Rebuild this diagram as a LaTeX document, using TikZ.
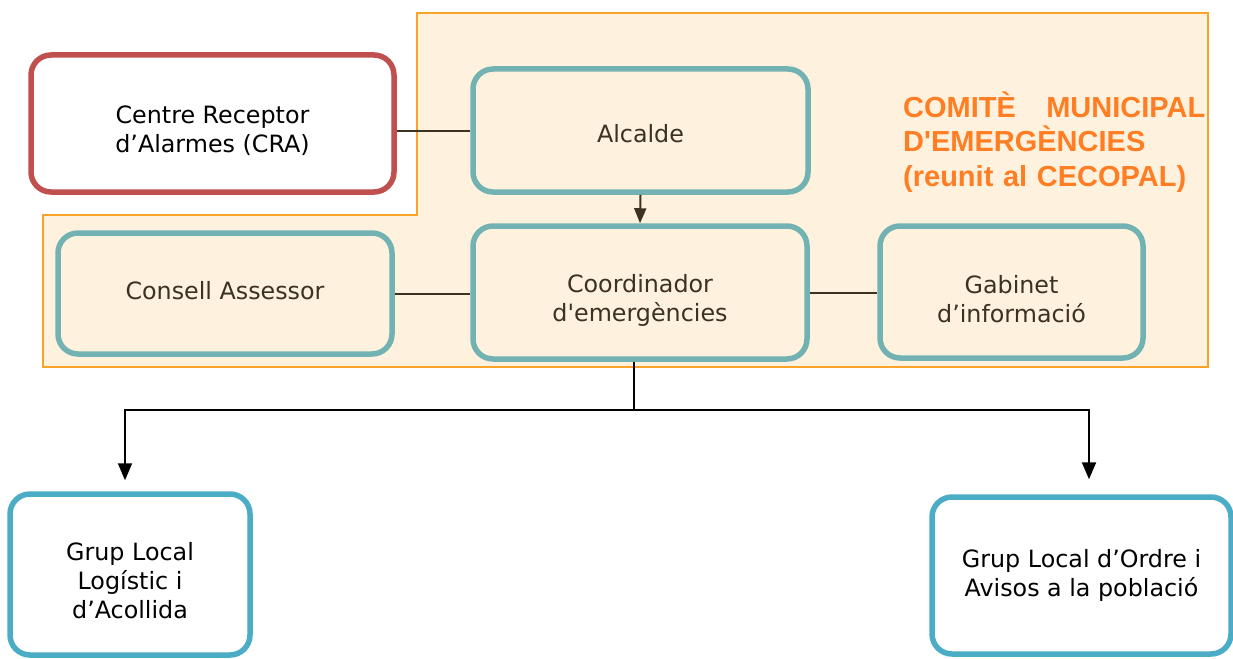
\documentclass[tikz,border=0pt]{standalone}
\usepackage{fontspec}
\usepackage{tikz}
\usetikzlibrary{arrows.meta,calc,positioning,shapes}
\newfontfamily\boxfont{DejaVu Sans}
\newfontfamily\comitefont{Liberation Sans}
\definecolor{my_cream}{RGB}{254, 242, 223}
\definecolor{my_orange}{RGB}{250, 163, 40}
\definecolor{my_title}{RGB}{255, 126, 35}
\definecolor{my_teal}{RGB}{114, 178, 179}
\definecolor{my_red}{RGB}{192, 80, 77}
\definecolor{my_blue}{RGB}{75, 172, 198}
\definecolor{my_brown}{RGB}{59, 50, 34}
\tikzset{
  orgnode/.style = {align=center, rectangle, rounded corners=20pt, line width=5.5pt,
  inner sep=2pt, font=\boxfont\fontsize{23.8}{29}\selectfont},
  org_in/.style = {orgnode, draw=my_teal, fill=my_cream, text=my_brown},
  org_cra/.style = {orgnode, draw=my_red, fill=white, text=black},
  org_grup/.style = {orgnode, draw=my_blue, fill=white, text=black}
}

\begin{document}
\begin{tikzpicture}[x=1pt, y=-1pt,
        link/.style={draw=my_brown, line width=2pt},
        arrow/.style={draw=black, line width=2pt, -{Triangle[length=17pt,width=14pt]}},
        comite/.style={align=left, text width=302pt, inner sep=0pt, anchor=north west,
          text=my_title, font=\comitefont\bfseries\fontsize{29}{34.3}\selectfont}]
    \useasboundingbox (0,0) rectangle (1233,658);
    \clip (0,0) rectangle (1233,658);
    % zona del comite
    \draw[my_orange, line width=1.8pt, fill=my_cream]
      (417,13) -- (1208,13) -- (1208,367) -- (43,367) -- (43,215) -- (417,215) -- cycle;
    \node [comite] (titol) at (903,91.5) {COMITÈ\hfill MUNICIPAL\\D'EMERGÈNCIES\\(reunit al CECOPAL)};

    \node [org_cra, minimum width=363pt, minimum height=137pt, text height=61pt] (cra) at (212.5,123.5)
      {Centre Receptor\\d’Alarmes (CRA)};
    \node [org_in, minimum width=335pt, minimum height=123pt, text height=24pt] (alcalde) at (640.5,130.5) {Alcalde};
    \node [org_in, minimum width=334pt, minimum height=121pt, text depth=6pt] (consell) at (225,293.5) {Consell Assessor};
    \node [org_in, minimum width=334pt, minimum height=133pt, text height=62pt] (coord) at (640,292.5)
      {Coordinador\\d'emergències};
    \node [org_in, minimum width=263pt, minimum height=132pt, text height=61pt] (gabinet) at (1011.5,292)
      {Gabinet\\d’informació};
    \node [org_grup, minimum width=240pt, minimum height=161pt, text height=89pt] (grup-log) at (130,574.5)
      {Grup Local\\Logístic i\\d’Acollida};
    \node [org_grup, minimum width=299pt, minimum height=157pt] (grup-ordre) at (1081.5,575.5)
      {Grup Local d’Ordre i\\Avisos a la població};

    \draw[link] (alcalde.west) -- (alcalde.west -| cra.east);
    \draw[link] (consell.east) -- (consell.east -| coord.west);
    \draw[link] (coord.east) -- (coord.east -| gabinet.west);
    \draw[draw=my_brown, line width=2pt, -{Triangle[length=15pt,width=12pt]}] (alcalde.south) -- (coord.north);

    \coordinate (split) at (634,410);
    \draw[draw=black, line width=2pt] (coord.south -| split) -- (split);
    \draw[arrow, shorten >=11pt] (split) -| ([xshift=-5pt]grup-log.north);
    \draw[arrow, shorten >=15pt] (split) -| ([xshift=7.5pt]grup-ordre.north);
\end{tikzpicture}
\end{document}
